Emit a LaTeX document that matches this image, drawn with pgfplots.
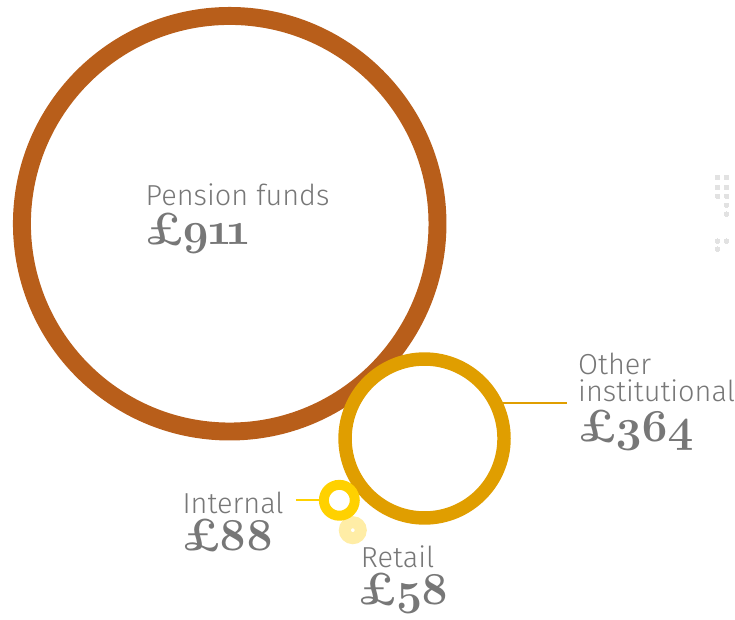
\documentclass[border=0pt]{standalone}
\usepackage{fontspec}
\usepackage{pgfplots}
\pgfplotsset{compat=1.18}
\setmainfont{Latin Modern Roman}
\newfontfamily\lbl{Fira Sans Light}
\newfontfamily\numfont{Latin Modern Roman}[Numbers=OldStyle, LetterSpace=-6]
\definecolor{cPension}{HTML}{B85E1A}
\definecolor{cOther}{HTML}{E09E00}
\definecolor{cInternal}{HTML}{FFD100}
\definecolor{cRetail}{HTML}{FFEDA6}
\definecolor{cText}{HTML}{777777}
\definecolor{cDot}{HTML}{E2E2E2}
\newcommand\lab[1]{{\lbl\fontsize{29}{29}\selectfont #1}}
\newcommand\val[1]{{\numfont\fontsize{46}{46}\selectfont\bfseries #1}}
\begin{document}
\begin{tikzpicture}
\begin{axis}[
  x=1pt, y=1pt, y dir=reverse,
  xmin=0, xmax=735, ymin=0, ymax=622,
  hide axis, clip=false, scale only axis,
]
\addplot[draw=none] coordinates {(0,0) (735,622)};
% Pension funds: 911
\addplot[only marks, mark=o, mark size=208.5pt, mark options={draw=cPension, line width=18pt}] coordinates {(230.5,224.5)};
% Other institutional: 364
\addplot[only marks, mark=o, mark size=79.75pt, mark options={draw=cOther, line width=13.5pt}] coordinates {(426,440)};
% leader lines
\addplot[cOther, line width=2pt] coordinates {(505,404) (569,404)};
\addplot[cInternal, line width=2pt] coordinates {(297,502) (321,502)};
% Retail: 58
\addplot[only marks, mark=o, mark size=8pt, mark options={draw=cRetail, line width=12pt}] coordinates {(354,532)};
% Internal: 88
\addplot[only marks, mark=o, mark size=15.5pt, mark options={draw=cInternal, line width=10pt}] coordinates {(340.5,502)};
% decorative dots
\addplot[only marks, color=cDot, mark=*, mark size=2.3pt, mark options={color=cDot, fill=cDot, line width=0pt}] coordinates {
 (720,178) (729,178) (720,188) (729,188) (720,197) (729,197) (729,206) (729,215)
 (720,242) (729,242) (720,250)};
% labels
\node[anchor=base west, text=cText, inner sep=0pt] at (axis cs:146,206) {\lab{Pension funds}};
\node[anchor=base west, text=cText, inner sep=0pt] at (axis cs:146,245) {\val{£911}};
\node[anchor=base west, text=cText, inner sep=0pt] at (axis cs:580,376) {\lab{Other}};
\node[anchor=base west, text=cText, inner sep=0pt] at (axis cs:580,403) {\lab{institutional}};
\node[anchor=base west, text=cText, inner sep=0pt] at (axis cs:580,443) {\val{£364}};
\node[anchor=base west, text=cText, inner sep=0pt] at (axis cs:183,515) {\lab{Internal}};
\node[anchor=base west, text=cText, inner sep=0pt] at (axis cs:183,552) {\val{£88}};
\node[anchor=base west, text=cText, inner sep=0pt] at (axis cs:362,569) {\lab{Retail}};
\node[anchor=base west, text=cText, inner sep=0pt] at (axis cs:360,607) {\val{£58}};
\end{axis}
\end{tikzpicture}
\end{document}
